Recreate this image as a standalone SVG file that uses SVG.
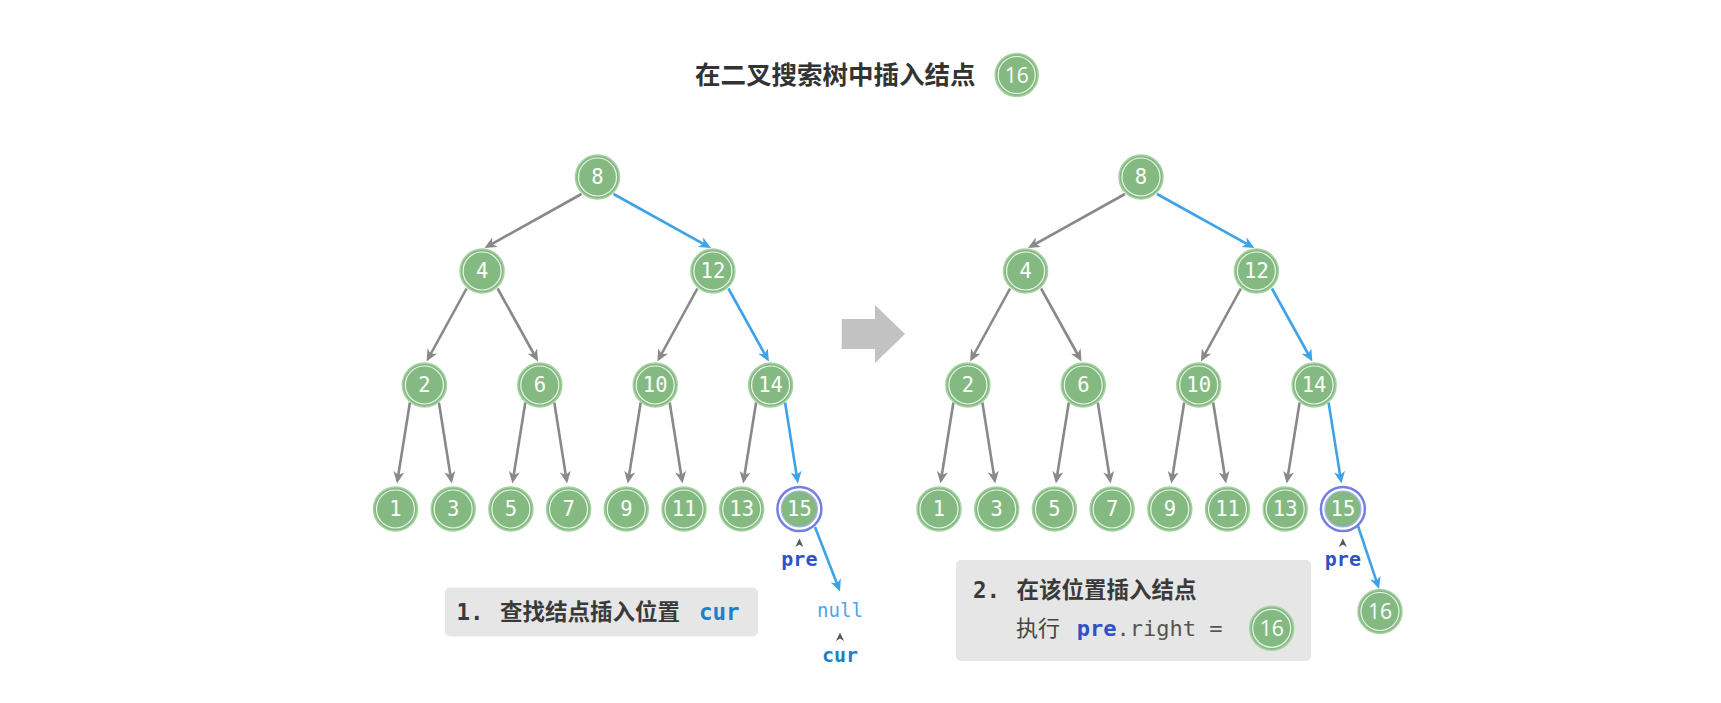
<svg xmlns="http://www.w3.org/2000/svg" width="1721" height="703" viewBox="0 0 1721 703">
<style>
.o{fill:#84ba81;stroke:#a5d2a1;stroke-width:1.5}
.i{fill:none;stroke:#ffffff;stroke-width:1.2;opacity:.85}
.po{fill:#ffffff;stroke:#7480e0;stroke-width:2.5}
.pi{fill:#84ba81;stroke:#a8b0ee;stroke-width:1.2}
.nt{font-family:"DejaVu Sans Mono",monospace;font-size:20.5px;fill:#ffffff;text-anchor:middle}
.st{font-family:"Open Sans",sans-serif;font-size:21px;fill:#ffffff;text-anchor:middle}
.e{stroke:#898989;stroke-width:2.6;fill:none;marker-end:url(#ag)}
.b{stroke:#3ea2e9;stroke-width:2.6;fill:none;marker-end:url(#ab)}
.cjk{font-family:"Noto Sans CJK SC",sans-serif}
.mono{font-family:"DejaVu Sans Mono",monospace}
.box{fill:#e6e6e6}
.pre{font-family:"DejaVu Sans Mono",monospace;font-weight:bold;font-size:20px;fill:#3050c8;text-anchor:middle}
.caret{fill:#555555}
</style>
<defs>
<marker id="ag" markerUnits="userSpaceOnUse" markerWidth="12" markerHeight="11" viewBox="0 0 12 11" refX="8" refY="5.5" orient="auto"><path d="M0,0 L12,5.5 L0,11 L3.5,5.5 Z" fill="#898989"/></marker>
<marker id="ab" markerUnits="userSpaceOnUse" markerWidth="12" markerHeight="11" viewBox="0 0 12 11" refX="8" refY="5.5" orient="auto"><path d="M0,0 L12,5.5 L0,11 L3.5,5.5 Z" fill="#3ea2e9"/></marker>
</defs>
<rect width="1721" height="703" fill="#ffffff"/>

<g id="title">
<text x="695" y="84" class="cjk" font-size="25.5" font-weight="bold" fill="#333333">在二叉搜索树中插入结点</text>
<circle cx="1016.7" cy="75" r="21.5" class="o"/><circle cx="1016.7" cy="75" r="18.5" class="i"/>
<text x="1016.7" y="82.5" class="st">16</text>
</g>

<g id="connectors">
<line class="e" x1="581.5" y1="194" x2="488" y2="246.05"/>
<line class="b" x1="613.5" y1="194" x2="707.4" y2="246.06"/>
<line class="e" x1="466.6" y1="288.5" x2="428.5" y2="358"/>
<line class="e" x1="497.6" y1="288.5" x2="536.1" y2="358"/>
<line class="e" x1="697.4" y1="288.5" x2="659.3" y2="358"/>
<line class="b" x1="728.4" y1="288.5" x2="766.9" y2="358"/>
<line class="e" x1="409.9" y1="402.5" x2="397.6" y2="479.55"/>
<line class="e" x1="438.9" y1="402.5" x2="451.1" y2="479.55"/>
<line class="e" x1="525.3" y1="402.5" x2="513" y2="479.55"/>
<line class="e" x1="554.3" y1="402.5" x2="566.5" y2="479.55"/>
<line class="e" x1="640.7" y1="402.5" x2="628.4" y2="479.55"/>
<line class="e" x1="669.7" y1="402.5" x2="681.9" y2="479.55"/>
<line class="e" x1="756.1" y1="402.5" x2="743.8" y2="479.55"/>
<line class="b" x1="785.1" y1="402.5" x2="797.3" y2="479.55"/>
<line class="b" x1="815" y1="527" x2="838.6" y2="587.8"/>

<line class="e" x1="1125" y1="194" x2="1031.5" y2="246.05"/>
<line class="b" x1="1157" y1="194" x2="1250.9" y2="246.06"/>
<line class="e" x1="1010.1" y1="288.5" x2="972" y2="358"/>
<line class="e" x1="1041.1" y1="288.5" x2="1079.6" y2="358"/>
<line class="e" x1="1240.9" y1="288.5" x2="1202.8" y2="358"/>
<line class="b" x1="1271.9" y1="288.5" x2="1310.4" y2="358"/>
<line class="e" x1="953.4" y1="402.5" x2="941.1" y2="479.55"/>
<line class="e" x1="982.4" y1="402.5" x2="994.6" y2="479.55"/>
<line class="e" x1="1068.8" y1="402.5" x2="1056.5" y2="479.55"/>
<line class="e" x1="1097.8" y1="402.5" x2="1110" y2="479.55"/>
<line class="e" x1="1184.2" y1="402.5" x2="1171.9" y2="479.55"/>
<line class="e" x1="1213.2" y1="402.5" x2="1225.4" y2="479.55"/>
<line class="e" x1="1299.6" y1="402.5" x2="1287.3" y2="479.55"/>
<line class="b" x1="1328.6" y1="402.5" x2="1340.8" y2="479.55"/>
<line class="b" x1="1358" y1="526" x2="1377.8" y2="585.2"/>
</g>

<!-- left tree -->
<g id="L8" transform="translate(597.5,177)"><circle r="22" class="o"/><circle r="19" class="i"/><text y="7.3" class="nt">8</text></g>
<g id="L4" transform="translate(482.1,271)"><circle r="22" class="o"/><circle r="19" class="i"/><text y="7.3" class="nt">4</text></g>
<g id="L12" transform="translate(712.9,271)"><circle r="22" class="o"/><circle r="19" class="i"/><text y="7.3" class="nt">12</text></g>
<g id="L2" transform="translate(424.4,385)"><circle r="22" class="o"/><circle r="19" class="i"/><text y="7.3" class="nt">2</text></g>
<g id="L6" transform="translate(539.8,385)"><circle r="22" class="o"/><circle r="19" class="i"/><text y="7.3" class="nt">6</text></g>
<g id="L10" transform="translate(655.2,385)"><circle r="22" class="o"/><circle r="19" class="i"/><text y="7.3" class="nt">10</text></g>
<g id="L14" transform="translate(770.6,385)"><circle r="22" class="o"/><circle r="19" class="i"/><text y="7.3" class="nt">14</text></g>
<g id="L1" transform="translate(395.5,509)"><circle r="22" class="o"/><circle r="19" class="i"/><text y="7.3" class="nt">1</text></g>
<g id="L3" transform="translate(453.2,509)"><circle r="22" class="o"/><circle r="19" class="i"/><text y="7.3" class="nt">3</text></g>
<g id="L5" transform="translate(510.9,509)"><circle r="22" class="o"/><circle r="19" class="i"/><text y="7.3" class="nt">5</text></g>
<g id="L7" transform="translate(568.6,509)"><circle r="22" class="o"/><circle r="19" class="i"/><text y="7.3" class="nt">7</text></g>
<g id="L9" transform="translate(626.3,509)"><circle r="22" class="o"/><circle r="19" class="i"/><text y="7.3" class="nt">9</text></g>
<g id="L11" transform="translate(684,509)"><circle r="22" class="o"/><circle r="19" class="i"/><text y="7.3" class="nt">11</text></g>
<g id="L13" transform="translate(741.7,509)"><circle r="22" class="o"/><circle r="19" class="i"/><text y="7.3" class="nt">13</text></g>
<g id="L15" transform="translate(799.4,509)"><circle r="22" class="po"/><circle r="18" class="pi"/><text y="7.3" class="nt">15</text></g>

<g id="L-pre">
<path class="caret" d="M795.4,547 L799.4,538.5 L803.4,547 L799.4,544.5 Z"/>
<text x="799.4" y="566" class="pre">pre</text>
</g>
<g id="L-null">
<text x="840" y="616.5" class="mono" font-size="19" fill="#4aa6ea" text-anchor="middle">null</text>
<path class="caret" d="M836,641 L840,632.5 L844,641 L840,638.5 Z"/>
<text x="840" y="661.5" class="mono" font-size="20" font-weight="bold" fill="#1f7fc9" text-anchor="middle">cur</text>
</g>

<g id="step1">
<rect x="445" y="587.5" width="313" height="49" rx="5" class="box"/>
<text y="619.5" font-size="22.5" font-weight="bold" fill="#3a3a3a"><tspan x="456.5" class="mono">1.</tspan><tspan x="500" class="cjk">查找结点插入位置</tspan><tspan x="699" class="mono" fill="#1f7fc9">cur</tspan></text>
</g>

<g id="arrow">
<polygon points="841.7,319 875,319 875,305 905,334 875,363 875,349 841.7,349" fill="#c2c2c2"/>
</g>

<!-- right tree -->
<g id="R8" transform="translate(1141,177)"><circle r="22" class="o"/><circle r="19" class="i"/><text y="7.3" class="nt">8</text></g>
<g id="R4" transform="translate(1025.6,271)"><circle r="22" class="o"/><circle r="19" class="i"/><text y="7.3" class="nt">4</text></g>
<g id="R12" transform="translate(1256.4,271)"><circle r="22" class="o"/><circle r="19" class="i"/><text y="7.3" class="nt">12</text></g>
<g id="R2" transform="translate(967.9,385)"><circle r="22" class="o"/><circle r="19" class="i"/><text y="7.3" class="nt">2</text></g>
<g id="R6" transform="translate(1083.3,385)"><circle r="22" class="o"/><circle r="19" class="i"/><text y="7.3" class="nt">6</text></g>
<g id="R10" transform="translate(1198.7,385)"><circle r="22" class="o"/><circle r="19" class="i"/><text y="7.3" class="nt">10</text></g>
<g id="R14" transform="translate(1314.1,385)"><circle r="22" class="o"/><circle r="19" class="i"/><text y="7.3" class="nt">14</text></g>
<g id="R1" transform="translate(939,509)"><circle r="22" class="o"/><circle r="19" class="i"/><text y="7.3" class="nt">1</text></g>
<g id="R3" transform="translate(996.7,509)"><circle r="22" class="o"/><circle r="19" class="i"/><text y="7.3" class="nt">3</text></g>
<g id="R5" transform="translate(1054.4,509)"><circle r="22" class="o"/><circle r="19" class="i"/><text y="7.3" class="nt">5</text></g>
<g id="R7" transform="translate(1112.1,509)"><circle r="22" class="o"/><circle r="19" class="i"/><text y="7.3" class="nt">7</text></g>
<g id="R9" transform="translate(1169.8,509)"><circle r="22" class="o"/><circle r="19" class="i"/><text y="7.3" class="nt">9</text></g>
<g id="R11" transform="translate(1227.5,509)"><circle r="22" class="o"/><circle r="19" class="i"/><text y="7.3" class="nt">11</text></g>
<g id="R13" transform="translate(1285.2,509)"><circle r="22" class="o"/><circle r="19" class="i"/><text y="7.3" class="nt">13</text></g>
<g id="R15" transform="translate(1342.9,509)"><circle r="22" class="po"/><circle r="18" class="pi"/><text y="7.3" class="nt">15</text></g>
<g id="R16" transform="translate(1380,611.5)"><circle r="22" class="o"/><circle r="19" class="i"/><text y="7.5" class="st">16</text></g>

<g id="R-pre">
<path class="caret" d="M1338.9,547 L1342.9,538.5 L1346.9,547 L1342.9,544.5 Z"/>
<text x="1342.9" y="566" class="pre">pre</text>
</g>

<g id="step2">
<rect x="956" y="560" width="355" height="101" rx="5" class="box"/>
<text y="598" font-size="22.5" font-weight="bold" fill="#3a3a3a"><tspan x="973" class="mono">2.</tspan><tspan x="1016.5" class="cjk">在该位置插入结点</tspan></text>
<text y="636" font-size="22" fill="#444444"><tspan x="1016" class="cjk">执行</tspan><tspan x="1076.7" class="mono" font-weight="bold" fill="#3050c8">pre</tspan><tspan class="mono" fill="#555555">.right =</tspan></text>
<circle cx="1271.7" cy="628.3" r="22" class="o"/><circle cx="1271.7" cy="628.3" r="19" class="i"/>
<text x="1271.7" y="635.8" class="st">16</text>
</g>
</svg>
